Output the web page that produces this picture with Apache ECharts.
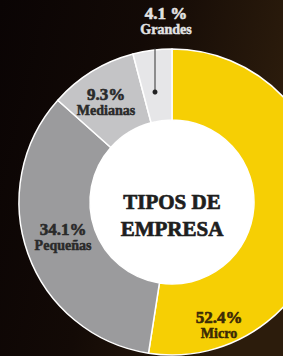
<!DOCTYPE html>
<html>
<head>
<meta charset="utf-8">
<script src="https://cdn.jsdelivr.net/npm/echarts@6/dist/echarts.min.js"></script>
<style>
  html, body { margin: 0; padding: 0; background: #0b0505; }
  #chart { width: 283px; height: 356px; }
</style>
</head>
<body>
<div id="chart"></div>
<script>
(function() {
  var names = ['Micro', 'Pequeñas', 'Medianas', 'Grandes'];
  var values = [52.4, 34.1, 9.3, 4.1];
  var pctLabels = ['52.4%', '34.1%', '9.3%', '4.1 %'];
  var colors = ['#f6cf04', '#9b9b9d', '#c4c4c6', '#e6e6e8'];
  var labelColors = ['#3b2a06', '#2a2a2a', '#2a2a2a', '#e2e2e2'];
  // label anchor spots (centre of the text pair)
  var labelSpots = [[219, 325], [63, 237], [106, 102], [166, 21]];

  var serif = '"Liberation Serif", "DejaVu Serif", serif';
  var chart = echarts.init(document.getElementById('chart'), null, { renderer: 'svg' });

  var cx = 172, cy = 202;
  var graphics = [];
  for (var i = 0; i < names.length; i++) {
    graphics.push({
      type: 'text', z: 10,
      x: labelSpots[i][0], y: labelSpots[i][1] - 8,
      style: {
        text: pctLabels[i], fill: labelColors[i], font: 'bold 17px ' + serif,
        stroke: labelColors[i], lineWidth: 0.6, lineHeight: 15,
        align: 'center', verticalAlign: 'middle'
      }
    });
    graphics.push({
      type: 'text', z: 10,
      x: labelSpots[i][0], y: labelSpots[i][1] + 8.5,
      style: {
        text: names[i], fill: labelColors[i], font: 'bold 14px ' + serif,
        stroke: labelColors[i], lineWidth: 0.5, lineHeight: 13,
        align: 'center', verticalAlign: 'middle'
      }
    });
  }
  // leader for Grandes
  graphics.push({
    type: 'line', z: 10,
    shape: { x1: 155, y1: 48, x2: 155, y2: 90 },
    style: { stroke: '#333', lineWidth: 1 }
  });
  graphics.push({
    type: 'circle', z: 10,
    shape: { cx: 155, cy: 92, r: 2.5 },
    style: { fill: '#222' }
  });
  graphics.push({
    type: 'text', z: 10,
    x: cx, y: 202,
    style: {
      text: 'TIPOS DE', fill: '#1e1e1e', font: 'bold 21px ' + serif,
      stroke: '#1e1e1e', lineWidth: 0.7,
      align: 'center', verticalAlign: 'middle'
    }
  });
  graphics.push({
    type: 'text', z: 10,
    x: cx, y: 229,
    style: {
      text: 'EMPRESA', fill: '#1e1e1e', font: 'bold 21px ' + serif,
      stroke: '#1e1e1e', lineWidth: 0.7,
      align: 'center', verticalAlign: 'middle'
    }
  });

  chart.setOption({
    animation: false,
    backgroundColor: {
      type: 'linear', x: 0, y: 0, x2: 1, y2: 0.3,
      colorStops: [
        { offset: 0, color: '#0a0404' },
        { offset: 0.5, color: '#130a06' },
        { offset: 1, color: '#2c1c0c' }
      ]
    },
    series: [
      {
        type: 'pie',
        center: [cx, cy],
        radius: [82, 153],
        startAngle: 90,
        clockwise: true,
        silent: true,
        label: { show: false },
        labelLine: { show: false },
        itemStyle: { borderColor: '#ffffff', borderWidth: 1.5 },
        data: names.map(function(n, i) {
          return { name: n, value: values[i], itemStyle: { color: colors[i] } };
        })
      },
      {
        type: 'pie',
        center: [cx, cy],
        radius: [0, 82],
        silent: true,
        label: { show: false },
        labelLine: { show: false },
        itemStyle: { color: '#ffffff' },
        data: [{ name: 'hole', value: 1 }]
      }
    ],
    graphic: graphics
  });
})();
</script>
</body>
</html>
